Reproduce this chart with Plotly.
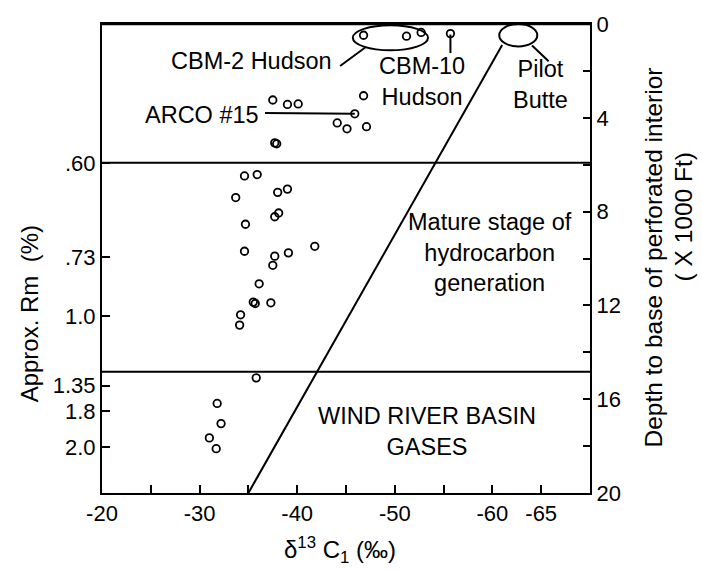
import plotly.graph_objects as go

# ---- data (δ13C1 in per mil, depth in 1000 ft) ----
delta13c = [-46.8, -51.2, -52.7, -55.7, -37.5, -39.0, -40.1, -46.8, -45.9, -44.1, -45.1, -47.1,
            -37.9, -37.7,
            -34.6, -35.9, -33.7, -38.0, -39.0, -37.7, -38.1, -34.7, -34.6, -37.7, -37.5, -39.1,
            -41.8, -36.1, -35.7, -35.5, -37.3, -34.2, -34.1, -35.8, -31.8, -32.2, -31.0, -31.7]
depth_kft = [0.48, 0.52, 0.36, 0.41, 3.24, 3.43, 3.41, 3.06, 3.83, 4.22, 4.47, 4.38,
             5.11, 5.07,
             6.48, 6.42, 7.40, 7.18, 7.04, 8.22, 8.06, 8.54, 9.69, 9.90, 10.29, 9.76,
             9.48, 11.08, 11.92, 11.86, 11.89, 12.40, 12.84, 15.09, 16.18, 17.04, 17.65, 18.11]

trend_delta = [-35.0, -61.0]
trend_depth = [20.0, 0.9]

zone_boundaries = [5.92, 14.83]

x_tickvals = [-20, -25, -30, -35, -40, -45, -50, -55, -60, -65]
x_ticktext = ["-20", "", "-30", "", "-40", "", "-50", "", "-60", "-65"]

rm_tickvals = [5.92, 9.94, 12.46, 15.42, 16.5, 18.04]
rm_ticktext = [".60", ".73", "1.0", "1.35", "1.8", "2.0"]

depth_tickvals = [0, 2, 4, 6, 8, 10, 12, 14, 16, 18, 20]
depth_ticktext = ["0", "", "4", "", "8", "", "12", "", "16", "", "20"]

FONT = "Arial, Liberation Sans, Helvetica, sans-serif"
FS = 22
FA = 23.5
BLACK = "#000000"

fig = go.Figure()

fig.add_trace(go.Scatter(x=trend_delta, y=trend_depth, mode="lines",
                         line=dict(color=BLACK, width=2), showlegend=False, hoverinfo="skip"))

fig.add_trace(go.Scatter(x=delta13c, y=depth_kft, mode="markers",
                         marker=dict(symbol="circle-open", size=7.5, color=BLACK, line=dict(width=1.8)),
                         showlegend=False))
# invisible trace to activate right axis
fig.add_trace(go.Scatter(x=[-40], y=[10], yaxis="y2", mode="markers",
                         marker=dict(opacity=0), showlegend=False, hoverinfo="skip"))

shapes = []
# top border
shapes.append(dict(type="line", xref="paper", yref="paper", x0=0, x1=1, y0=1, y1=1,
                   line=dict(color=BLACK, width=2.5)))
for b in zone_boundaries:
    shapes.append(dict(type="line", xref="x", yref="y", x0=-20, x1=-70, y0=b, y1=b,
                       line=dict(color=BLACK, width=2)))
# CBM-2 Hudson ellipse
shapes.append(dict(type="circle", xref="x", yref="y", x0=-45.7, x1=-53.4, y0=0.05, y1=1.12,
                   line=dict(color=BLACK, width=2)))
# Pilot Butte ellipse
shapes.append(dict(type="circle", xref="x", yref="y", x0=-60.7, x1=-64.6, y0=0.0, y1=0.96,
                   line=dict(color=BLACK, width=2)))
# leader lines
leaders = [(-44.4, 1.79, -47.0, 0.99),   # CBM-2
           (-55.7, 0.45, -55.7, 1.24),   # CBM-10
           (-64.06, 0.92, -65.76, 1.59), # Pilot Butte
           (-36.7, 3.80, -45.9, 3.83)]   # ARCO #15
for x0, y0, x1, y1 in leaders:
    shapes.append(dict(type="line", xref="x", yref="y", x0=x0, y0=y0, x1=x1, y1=y1,
                       line=dict(color=BLACK, width=2)))

ann = []
def txt(x, y, t, ref="x", size=FA, **kw):
    d = dict(x=x, y=y, xref=ref, yref=("y" if ref == "x" else "paper"), text=t, showarrow=False,
             xanchor="center", yanchor="middle",
             font=dict(family=FONT, size=size, color=BLACK))
    d.update(kw)
    ann.append(d)

txt(-35.3, 1.58, "CBM-2 Hudson")
txt(-52.76, 2.44, "CBM-10<br>Hudson")
txt(-64.88, 2.58, "Pilot<br>Butte")
txt(-30.2, 3.88, "ARCO #15")
txt(-59.75, 9.74, "Mature stage of<br>hydrocarbon<br>generation")
txt(-53.3, 17.36, "WIND RIVER BASIN<br>GASES")

# axis titles (paper coordinates, plot area x 102..590, y 15..493)
txt(-0.1496, 0.383, "Approx. Rm&nbsp;&nbsp;(%)", ref="paper", size=24, textangle=-90)
txt(1.131, 0.502, "Depth to base of perforated interior", ref="paper", size=24.5, textangle=-90)
txt(1.191, 0.588, "( X 1000 Ft)", ref="paper", size=24.5, textangle=-90)
txt(0.4877, -0.1213, "δ<sup>13</sup> C<sub>1</sub> (‰)", ref="paper", size=24)

fig.update_layout(
    width=702, height=570,
    margin=dict(l=102, r=112, t=15, b=77),
    paper_bgcolor="white", plot_bgcolor="white",
    font=dict(family=FONT, size=FS, color=BLACK),
    shapes=shapes, annotations=ann, showlegend=False,
    xaxis=dict(range=[-20, -70], tickvals=x_tickvals, ticktext=x_ticktext,
               ticks="inside", ticklen=8, tickwidth=2, tickcolor=BLACK,
               showline=True, linewidth=2, linecolor=BLACK, mirror=True,
               showgrid=False, zeroline=False, tickfont=dict(size=FS)),
    yaxis=dict(range=[20, 0], tickvals=rm_tickvals, ticktext=rm_ticktext,
               ticks="inside", ticklen=8, tickwidth=2, tickcolor=BLACK,
               showline=True, linewidth=2, linecolor=BLACK,
               showgrid=False, zeroline=False, tickfont=dict(size=FS)),
    yaxis2=dict(range=[20, 0], overlaying="y", side="right",
                tickvals=depth_tickvals, ticktext=depth_ticktext,
                ticks="inside", ticklen=7, tickwidth=2, tickcolor=BLACK,
                showline=True, linewidth=2, linecolor=BLACK,
                showgrid=False, zeroline=False, tickfont=dict(size=FS)),
)

fig.write_html("out.html", config={"displayModeBar": False},
               post_script="document.body.style.margin='0';document.body.style.padding='0';")
